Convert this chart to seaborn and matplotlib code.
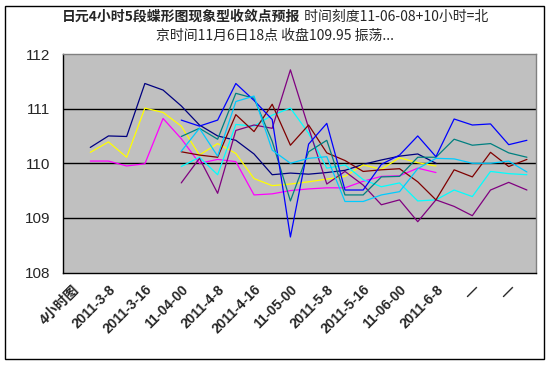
"""Yen 4-hour five-segment butterfly chart, Excel-style line chart."""

import numpy as np
import pandas as pd
import seaborn as sns
import matplotlib.pyplot as plt
from matplotlib.patches import Rectangle

nan = np.nan

# Data
N_CATS = 26
TICK_POS = list(range(0, 26, 2))
TICK_LABELS = ["4小时图", "2011-3-8", "2011-3-16", "11-04-00", "2011-4-8",
               "2011-4-16", "11-05-00", "2011-5-8", "2011-5-16", "11-06-00",
               "2011-6-8", "—", "—"]

NAVY = [nan, 110.29, 110.50, 110.49, 111.46, 111.34, 111.05, 110.70, 110.50,
        110.42, 110.17, 109.79, 109.82, 109.80, 109.83, 109.87, 109.98, 110.06,
        110.13, 110.17, 110.00] + [nan] * 5
MAGENTA = [nan, 110.04, 110.04, 109.95, 109.99, 110.82, 110.45, 110.00, 110.07,
           110.03, 109.42, 109.44, 109.50, 109.53, 109.55, 109.55, 109.67,
           109.76, 109.77, 109.91, 109.83] + [nan] * 5
YELLOW = [nan, 110.20, 110.39, 110.11, 111.01, 110.93, 110.68, 110.15, 110.36,
          110.18, 109.72, 109.59, 109.62, 109.66, 109.71, 109.76, 109.97,
          109.89, 110.10, 110.01, 109.95] + [nan] * 5
CYAN = [nan] * 6 + [109.94, 110.11, 109.79, 110.71, 110.68, 110.88, 111.01,
                    110.55, 109.91, 109.97, 109.70, 109.57, 109.64, 109.31,
                    109.33, 109.51, 109.39, 109.85, 109.81, 109.79]
PURPLE = [nan] * 6 + [109.64, 110.09, 109.45, 110.60, 110.70, 110.64, 111.71,
                      110.65, 109.62, 109.85, 109.60, 109.24, 109.33, 108.93,
                      109.33, 109.21, 109.04, 109.51, 109.65, 109.51]
DARK_RED = [nan] * 6 + [110.21, 110.15, 110.11, 110.89, 110.58, 111.08, 110.33,
                        110.70, 110.19, 110.05, 109.85, 109.88, 109.90, 109.66,
                        109.33, 109.88, 109.75, 110.20, 109.94, 110.07]
TEAL = [nan] * 6 + [110.49, 110.64, 110.44, 111.28, 111.19, 110.40, 109.31,
                    110.21, 110.42, 109.42, 109.42, 109.75, 109.76, 110.11,
                    110.11, 110.44, 110.33, 110.36, 110.19, 110.11]
BLUE = [nan] * 6 + [110.79, 110.68, 110.79, 111.46, 111.15, 110.80, 108.65,
                    110.35, 110.73, 109.51, 109.51, 109.98, 110.15, 110.50,
                    110.12, 110.81, 110.70, 110.72, 110.34, 110.42]
SKY = [nan] * 6 + [110.22, 110.64, 110.13, 111.13, 111.23, 110.24, 110.00,
                   110.09, 110.12, 109.30, 109.30, 109.42, 109.48, 109.90,
                   110.09, 110.08, 110.00, 110.00, 110.04, 109.84]

SERIES = {"s1": NAVY, "s2": MAGENTA, "s3": YELLOW, "s4": CYAN, "s5": PURPLE,
          "s6": DARK_RED, "s7": TEAL, "s8": BLUE, "s9": SKY}
PALETTE = {"s1": "#000080", "s2": "#FF00FF", "s3": "#FFFF00", "s4": "#00FFFF",
           "s5": "#800080", "s6": "#800000", "s7": "#008080", "s8": "#0000FF",
           "s9": "#00CCFF"}

TITLE_BOLD = "日元4小时5段蝶形图现象型收敛点预报"
TITLE_REST = " 时间刻度11-06-08+10小时=北"
TITLE_LINE2 = "京时间11月6日18点 收盘109.95 振荡..."


def build_frame():
    rows = []
    for name, vals in SERIES.items():
        for i, v in enumerate(vals):
            if not np.isnan(v):
                rows.append({"idx": i, "value": v, "series": name})
    return pd.DataFrame(rows)


def main():
    sns.set_style("white")
    plt.rcParams["font.family"] = ["Noto Sans CJK SC", "DejaVu Sans"]

    W, H = 551, 366
    fig = plt.figure(figsize=(W / 100, H / 100), dpi=100)
    ax = fig.add_axes([63 / W, 1 - 272.5 / H, 473 / W, 218.5 / H])
    ax.set_facecolor("#C0C0C0")

    df = build_frame()
    sns.lineplot(data=df, x="idx", y="value", hue="series",
                 hue_order=list(SERIES), palette=PALETTE, estimator=None,
                 sort=False, legend=False, linewidth=0.9, ax=ax)

    for yv in (109, 110, 111):
        ax.axhline(yv, color="black", lw=1.0, zorder=0.5)

    ax.set_xlim(-0.5, N_CATS - 0.5)
    ax.set_ylim(108, 112)
    ax.set_yticks([108, 109, 110, 111, 112])
    ax.set_yticklabels(["108", "109", "110", "111", "112"],
                       family=["Liberation Sans"], fontsize=11)
    ax.tick_params(axis="y", direction="in", length=4, width=1,
                   color="black", pad=9)

    ax.set_xticks(TICK_POS)
    ax.set_xticklabels(TICK_LABELS, rotation=45, ha="right",
                       rotation_mode="anchor", fontsize=10, weight="bold",
                       family=["Liberation Sans", "Noto Sans CJK SC"])
    ax.tick_params(axis="x", which="major", length=0, pad=7)
    ax.set_xticks(np.arange(-0.5, N_CATS, 1.0), minor=True)
    ax.tick_params(axis="x", which="minor", direction="in", length=4,
                   width=1, color="black")
    ax.set_xlabel("")
    ax.set_ylabel("")

    for side in ("left", "bottom"):
        ax.spines[side].set_color("black")
        ax.spines[side].set_linewidth(1.0)
    for side in ("top", "right"):
        ax.spines[side].set_color("#808080")
        ax.spines[side].set_linewidth(1.0)

    # outer chart border
    fig.patches.append(Rectangle((5 / W, 1 - 359 / H), 539 / W, 353 / H,
                                 transform=fig.transFigure, fill=False,
                                 edgecolor="black", lw=1.0))

    # two-part first title line, centred as a whole
    renderer = fig.canvas.get_renderer()
    y1, y2 = 1 - 16.5 / H, 1 - 35.5 / H
    t1 = fig.text(0, y1, TITLE_BOLD, weight="bold", fontsize=10, va="center")
    t2 = fig.text(0, y1, TITLE_REST, fontsize=10, va="center")
    w1 = t1.get_window_extent(renderer).width
    w2 = t2.get_window_extent(renderer).width
    x0 = 275 - (w1 + w2) / 2
    t1.set_x(x0 / W)
    t2.set_x((x0 + w1) / W)
    fig.text(275 / W, y2, TITLE_LINE2, fontsize=10, ha="center", va="center")

    fig.savefig("out.png", dpi=100)


if __name__ == "__main__":
    main()
